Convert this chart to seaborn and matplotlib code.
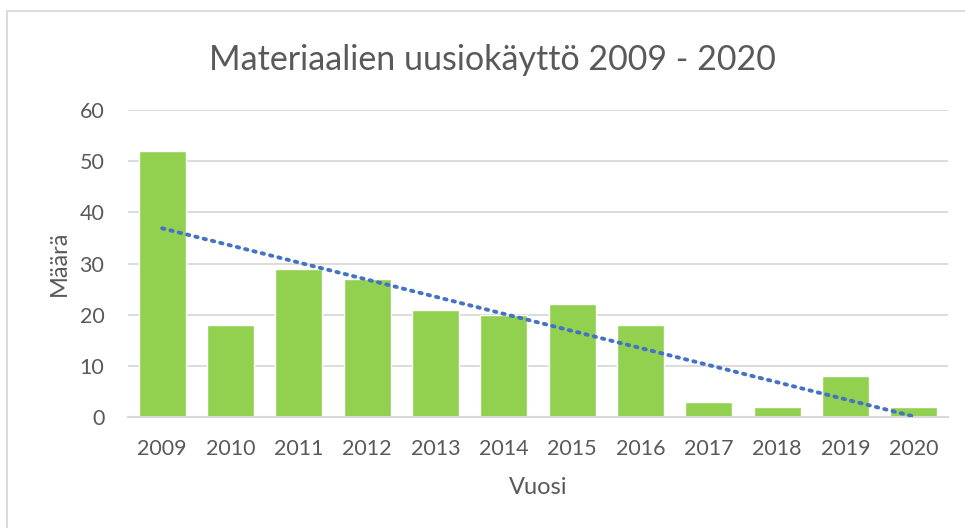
import numpy as np
import pandas as pd
import matplotlib
matplotlib.use("Agg")
import matplotlib.pyplot as plt
import seaborn as sns
from matplotlib.lines import Line2D

years = ["2009", "2010", "2011", "2012", "2013", "2014", "2015", "2016", "2017", "2018", "2019", "2020"]
counts = [52, 18, 29, 27, 21, 20, 22, 18, 3, 2, 8, 2]

title = "Materiaalien uusiokäyttö 2009 - 2020"
xlabel = "Vuosi"
ylabel = "Määrä"

sns.set_style("white")
plt.rcParams["font.family"] = ["Lato", "DejaVu Sans"]

text_color = "#595959"
grid_color = "#D9D9D9"

df = pd.DataFrame({"year": years, "count": counts})

fig = plt.figure(figsize=(9.65, 5.28), dpi=100)
ax = fig.add_axes([0.1326, 0.2102, 0.8497, 0.5814])

sns.barplot(data=df, x="year", y="count", color="#92D050", saturation=1,
            width=0.69, ax=ax, zorder=2)

# linear trendline (like Excel)
xs = np.arange(len(counts))
k, b = np.polyfit(xs, counts, 1)
ax.plot(xs, k * xs + b, linestyle=(0, (0.6, 1.6)), dash_capstyle="round",
        color="#4472C4", linewidth=2.8, zorder=3)

ax.set_ylim(0, 60)
ax.set_yticks(range(0, 61, 10))
ax.set_xlim(-0.5, len(years) - 0.5)
ax.yaxis.grid(True, color=grid_color, linewidth=1.3, zorder=0)
ax.set_axisbelow(True)
for s in ["top", "right", "left"]:
    ax.spines[s].set_visible(False)
ax.spines["bottom"].set_color(grid_color)
ax.spines["bottom"].set_linewidth(1.5)
ax.tick_params(axis="both", length=0, labelsize=15.5, colors=text_color)
ax.tick_params(axis="x", pad=16)
ax.tick_params(axis="y", pad=17)

ax.set_xlabel(xlabel, fontsize=17, color=text_color, va="center")
ax.set_ylabel(ylabel, fontsize=17, color=text_color, va="center")
ax.xaxis.set_label_coords(0.5, -0.228)
ax.yaxis.set_label_coords(-0.084, 0.5)

fig.text(0.51, 0.887, title, ha="center", va="center", fontsize=24.5, color=text_color)

# chart frame (only left and top edges are visible in the crop)
fig.add_artist(Line2D([7 / 965, 7 / 965], [0, 1 - 11 / 528], transform=fig.transFigure,
                      color=grid_color, linewidth=1.3))
fig.add_artist(Line2D([7 / 965, 1], [1 - 11 / 528, 1 - 11 / 528], transform=fig.transFigure,
                      color=grid_color, linewidth=1.3))

fig.savefig("out.png", dpi=100)
